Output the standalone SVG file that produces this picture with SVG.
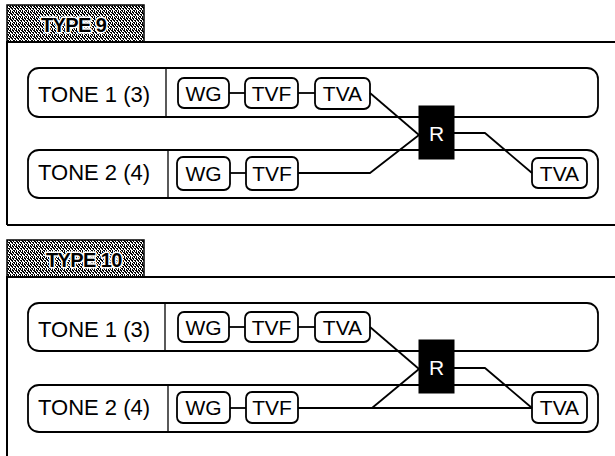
<svg xmlns="http://www.w3.org/2000/svg" width="615" height="456" viewBox="0 0 615 456">
<style>
.frame{fill:none;stroke:#000;stroke-width:2}
.tone{fill:#fff;stroke:#000;stroke-width:1.8}
.div{stroke:#000;stroke-width:1.3}
.box{fill:#fff;stroke:#000;stroke-width:1.8}
.rbox{fill:#000;stroke:#000;stroke-width:1}
.lbl{font-family:"Liberation Sans",Arial,sans-serif;font-size:22px;fill:#000}
.blbl{font-family:"Liberation Sans",Arial,sans-serif;font-size:21px;fill:#000;text-anchor:middle}
.rlbl{font-family:"Liberation Sans",Arial,sans-serif;font-size:21px;fill:#fff;text-anchor:middle}
.tablbl{font-family:"Liberation Sans",Arial,sans-serif;font-size:20px;font-weight:bold;fill:#000;stroke:#fff;stroke-width:3;stroke-linejoin:round;paint-order:stroke;letter-spacing:-0.6px}
.conn{fill:none;stroke:#000;stroke-width:1.8;stroke-linejoin:round}
</style>
<defs>
<pattern id="ht" width="6" height="6" patternUnits="userSpaceOnUse">
<rect width="6" height="6" fill="#fff"/>
<rect x="0" y="0" width="2" height="1" fill="#000"/>
<rect x="3" y="0" width="2" height="1" fill="#000"/>
<rect x="1" y="1" width="1" height="1" fill="#000"/>
<rect x="4" y="1" width="2" height="1" fill="#000"/>
<rect x="0" y="2" width="1" height="2" fill="#000"/>
<rect x="2" y="2" width="2" height="1" fill="#000"/>
<rect x="5" y="2" width="1" height="1" fill="#000"/>
<rect x="3" y="3" width="1" height="1" fill="#000"/>
<rect x="1" y="4" width="2" height="1" fill="#000"/>
<rect x="4" y="4" width="1" height="2" fill="#000"/>
<rect x="0" y="5" width="1" height="1" fill="#000"/>
<rect x="2" y="5" width="1" height="1" fill="#000"/>
</pattern>
</defs>
<rect width="615" height="456" fill="#fff"/>

<!-- TYPE 9 panel -->
<g id="panel-type9">
<rect x="7" y="5" width="137" height="37" fill="url(#ht)" stroke="#000" stroke-width="1.5"/>
<text class="tablbl" x="41" y="32">TYPE 9</text>
<path class="frame" d="M7,225 V42 H615 M7,225 H615"/>
</g>
<g id="t9-tone1">
<rect class="tone" x="28" y="68" width="570" height="49" rx="11"/>
<line class="div" x1="166" y1="68" x2="166" y2="117"/>
<text class="lbl" x="38" y="102">TONE 1 (3)</text>
</g>
<g id="t9-tone2">
<rect class="tone" x="28" y="150" width="570" height="48" rx="11"/>
<line class="div" x1="168" y1="150" x2="168" y2="198"/>
<text class="lbl" x="38" y="180">TONE 2 (4)</text>
</g>
<g id="t9-wg1"><rect class="box" x="178" y="78" width="51" height="30" rx="6"/><text class="blbl" x="203.5" y="101">WG</text></g>
<g id="t9-tvf1"><rect class="box" x="245" y="78" width="53" height="30" rx="6"/><text class="blbl" x="271.5" y="101">TVF</text></g>
<g id="t9-tva1"><rect class="box" x="315" y="78" width="55" height="31" rx="6"/><text class="blbl" x="342.5" y="101">TVA</text></g>
<g id="t9-wg2"><rect class="box" x="177" y="157" width="53" height="33" rx="6"/><text class="blbl" x="203.5" y="181">WG</text></g>
<g id="t9-tvf2"><rect class="box" x="246" y="157" width="52" height="33" rx="6"/><text class="blbl" x="272" y="181">TVF</text></g>
<g id="t9-tva2"><rect class="box" x="532" y="158" width="55" height="30" rx="6"/><text class="blbl" x="559.5" y="181">TVA</text></g>
<g id="t9-r"><rect class="rbox" x="419" y="106" width="35" height="53"/><text class="rlbl" x="436.5" y="141">R</text></g>

<!-- TYPE 10 panel -->
<g id="panel-type10">
<rect x="7" y="240" width="137" height="37" fill="url(#ht)" stroke="#000" stroke-width="1.5"/>
<text class="tablbl" x="46" y="267">TYPE 10</text>
<path class="frame" d="M7,456 V277 H615"/>
</g>
<g id="t10-tone1">
<rect class="tone" x="28" y="303" width="570" height="48" rx="11"/>
<line class="div" x1="165" y1="303" x2="165" y2="351"/>
<text class="lbl" x="38" y="337">TONE 1 (3)</text>
</g>
<g id="t10-tone2">
<rect class="tone" x="28" y="385" width="570" height="47" rx="11"/>
<line class="div" x1="168" y1="385" x2="168" y2="432"/>
<text class="lbl" x="38" y="415">TONE 2 (4)</text>
</g>
<g id="t10-wg1"><rect class="box" x="178" y="312" width="51" height="30" rx="6"/><text class="blbl" x="203.5" y="335">WG</text></g>
<g id="t10-tvf1"><rect class="box" x="245" y="312" width="53" height="30" rx="6"/><text class="blbl" x="271.5" y="335">TVF</text></g>
<g id="t10-tva1"><rect class="box" x="315" y="312" width="55" height="30" rx="6"/><text class="blbl" x="342.5" y="335">TVA</text></g>
<g id="t10-wg2"><rect class="box" x="177" y="392" width="53" height="31" rx="6"/><text class="blbl" x="203.5" y="415">WG</text></g>
<g id="t10-tvf2"><rect class="box" x="246" y="392" width="52" height="31" rx="6"/><text class="blbl" x="272" y="415">TVF</text></g>
<g id="t10-tva2"><rect class="box" x="532" y="392" width="55" height="31" rx="6"/><text class="blbl" x="559.5" y="415">TVA</text></g>
<g id="t10-r"><rect class="rbox" x="419" y="340" width="35" height="53"/><text class="rlbl" x="436.5" y="375">R</text></g>

<g id="connectors">
<!-- TYPE 9 -->
<path class="conn" d="M229,93 H245"/>
<path class="conn" d="M298,93 H315"/>
<path class="conn" d="M370,93 L419,135"/>
<path class="conn" d="M230,173 H246"/>
<path class="conn" d="M298,173 H370 L419,135"/>
<path class="conn" d="M454,133 H485 L532,173"/>
<!-- TYPE 10 -->
<path class="conn" d="M229,327 H245"/>
<path class="conn" d="M298,327 H315"/>
<path class="conn" d="M370,327 L419,369"/>
<path class="conn" d="M230,408 H246"/>
<path class="conn" d="M298,408 H532"/>
<path class="conn" d="M372,408 L419,369"/>
<path class="conn" d="M454,368 H485 L532,408"/>
</g>
</svg>
